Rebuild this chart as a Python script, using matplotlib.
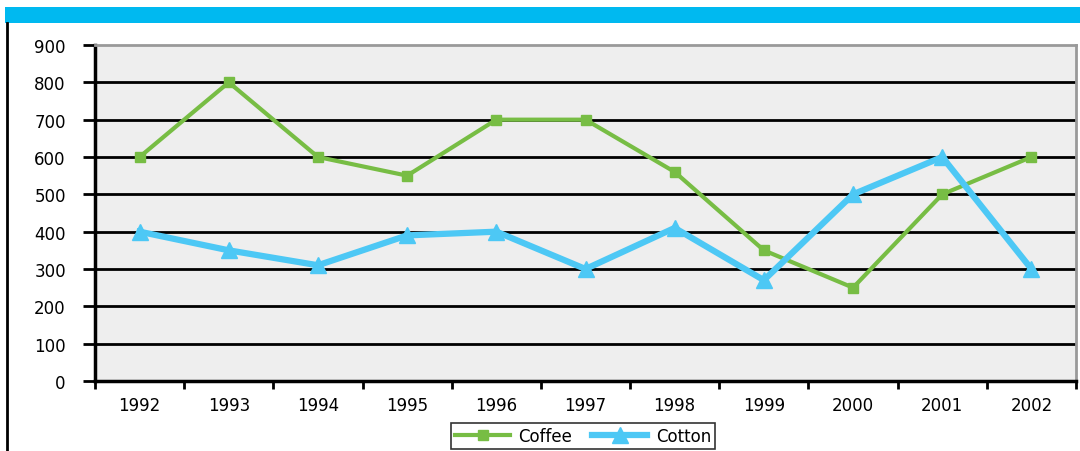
import matplotlib.pyplot as plt
from matplotlib.patches import Rectangle
from matplotlib.lines import Line2D

plt.rcParams['font.family'] = ['DejaVu Sans']

years = ["1992", "1993", "1994", "1995", "1996", "1997", "1998", "1999", "2000", "2001", "2002"]
coffee = [600, 800, 600, 550, 700, 700, 560, 350, 250, 500, 600]
cotton = [400, 350, 310, 390, 400, 300, 410, 270, 500, 600, 300]

fig = plt.figure(figsize=(10.8, 4.52), dpi=100)
W, H = 1080, 452

# header bar and left rule
fig.patches.append(Rectangle((5 / W, 1 - 24 / H), 1 - 5 / W, 16 / H, transform=fig.transFigure,
                             facecolor="#00B9F0", edgecolor="none"))
fig.lines.append(Line2D([6.5 / W, 6.5 / W], [0, 1 - 24 / H], transform=fig.transFigure,
                        color="black", lw=2))

ax = fig.add_axes([95 / W, 1 - 382 / H, (1076 - 95) / W, (382 - 46) / H])
ax.set_facecolor("#EEEEEE")

x = list(range(len(years)))
ax.plot(x, coffee, color="#77BD44", lw=3, marker="s", markersize=6.5, label="Coffee", zorder=3)
ax.plot(x, cotton, color="#4DC8F5", lw=4.5, marker="^", markersize=11, label="Cotton", zorder=4)

ax.set_xlim(-0.5, len(years) - 0.5)
ax.set_ylim(0, 900)
ax.set_yticks(range(0, 901, 100))
ax.set_xticks(x)
ax.set_xticklabels(years)
ax.set_xticks([i + 0.5 for i in range(-1, len(years))], minor=True)
ax.tick_params(axis="x", which="major", length=0, pad=11, labelsize=12)
ax.tick_params(axis="x", which="minor", length=6, width=2, direction="out")
ax.tick_params(axis="y", length=9, width=2, direction="out", labelsize=12, pad=12)

for v in range(100, 900, 100):
    ax.axhline(v, color="black", lw=2, zorder=1)

ax.spines["left"].set_linewidth(2.5)
ax.spines["bottom"].set_linewidth(2.5)
ax.spines["top"].set_color("#999999")
ax.spines["right"].set_color("#999999")
ax.spines["top"].set_linewidth(2)
ax.spines["right"].set_linewidth(2)

leg = fig.legend(loc="center", bbox_to_anchor=(583 / W, 1 - 437 / H), ncol=2, frameon=True,
                 fancybox=False, edgecolor="black", fontsize=12, handlelength=3.3,
                 borderpad=0.25, columnspacing=1.2, handletextpad=0.5)
leg.get_frame().set_linewidth(1.2)

fig.savefig("out.png", dpi=100)
